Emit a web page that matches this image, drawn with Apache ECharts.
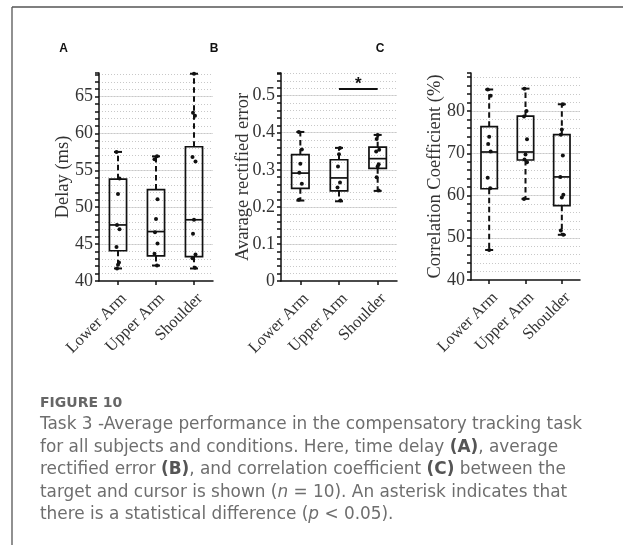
<!DOCTYPE html>
<html>
<head>
<meta charset="utf-8">
<script src="https://cdn.jsdelivr.net/npm/echarts@6/dist/echarts.min.js"></script>
<style>
html,body{margin:0;padding:0;background:#fff;}
#chart{width:623px;height:545px;}
</style>
</head>
<body>
<div id="chart"></div>
<script>
// ---------- data ----------
const categories = ['Lower Arm', 'Upper Arm', 'Shoulder'];

// box stats: [min, Q1, median, Q3, max]
const delayStats = [
  [41.7, 44.1, 47.6, 53.8, 57.5],
  [42.1, 43.4, 46.7, 52.4, 56.9],
  [41.7, 43.3, 48.3, 58.2, 68.1]
];
const delayPoints = [
  [57.5, 53.9, 51.8, 47.6, 47.0, 44.6, 42.5, 42.2, 41.7],
  [56.9, 56.5, 51.1, 48.4, 46.6, 45.1, 43.7, 42.1],
  [68.1, 62.8, 62.4, 56.8, 56.2, 48.3, 46.4, 43.6, 43.1, 41.8]
];

const errorStats = [
  [0.217, 0.250, 0.291, 0.341, 0.402],
  [0.215, 0.243, 0.278, 0.327, 0.359],
  [0.243, 0.304, 0.330, 0.361, 0.394]
];
const errorPoints = [
  [0.402, 0.355, 0.316, 0.292, 0.262, 0.219],
  [0.359, 0.342, 0.309, 0.266, 0.252, 0.217],
  [0.394, 0.383, 0.354, 0.349, 0.315, 0.309, 0.280, 0.244]
];

const corrStats = [
  [47.1, 61.6, 70.3, 76.3, 85.1],
  [59.2, 68.4, 70.3, 78.8, 85.3],
  [50.7, 57.6, 64.4, 74.4, 81.6]
];
const corrPoints = [
  [85.1, 83.6, 73.9, 72.2, 70.4, 64.2, 61.7, 47.1],
  [85.3, 80.0, 78.7, 73.3, 69.7, 68.5, 67.9, 59.2],
  [81.6, 75.6, 74.4, 69.5, 64.4, 60.2, 59.5, 51.7, 50.7]
];

// significance bar (panel B)
const sigPair = [1, 2];
const sigLevel = 0.518;
const sigMarkLevel = 0.536;

// axis settings
const axisNames = ['Delay (ms)', 'Avarage rectified error', 'Correlation Coefficient (%)'];
const axisMin = [40, 0, 40];
const axisMax = [68.2, 0.561, 89];
const majorInterval = [5, 0.1, 10];
const minorInterval = [1, 0.02, 2];
const panelLetters = ['A', 'B', 'C'];

// ---------- layout ----------
const grids = [
  {left: 99, top: 73, width: 114, height: 208},
  {left: 281, top: 73, width: 116, height: 208},
  {left: 471, top: 73, width: 109, height: 207}
];
const nameGaps = [26, 28, 26];
const letterPos = [[63.5, 49], [214, 49], [380, 49]];

const SERIF = '"Liberation Serif", "Times New Roman", serif';

function boxRender(params, api) {
  const x = api.value(0);
  const bw = api.size([1, 0])[0] * 0.45;
  const pMin = api.coord([x, api.value(1)]);
  const pQ1 = api.coord([x, api.value(2)]);
  const pMed = api.coord([x, api.value(3)]);
  const pQ3 = api.coord([x, api.value(4)]);
  const pMax = api.coord([x, api.value(5)]);
  const cx = pMed[0];
  const capW = 4;
  const solid = {stroke: '#111', lineWidth: 1.7, fill: null};
  const dashed = {stroke: '#111', lineWidth: 2, lineDash: [5.5, 3.5], fill: null};
  return {
    type: 'group',
    children: [
      {type: 'line', shape: {x1: cx, y1: pQ3[1], x2: cx, y2: pMax[1]}, style: dashed},
      {type: 'line', shape: {x1: cx, y1: pQ1[1], x2: cx, y2: pMin[1]}, style: dashed},
      {type: 'line', shape: {x1: cx - capW, y1: pMax[1], x2: cx + capW, y2: pMax[1]}, style: {stroke: '#111', lineWidth: 2}},
      {type: 'line', shape: {x1: cx - capW, y1: pMin[1], x2: cx + capW, y2: pMin[1]}, style: {stroke: '#111', lineWidth: 2}},
      {type: 'rect', shape: {x: cx - bw / 2, y: pQ3[1], width: bw, height: pQ1[1] - pQ3[1]}, style: {stroke: '#111', lineWidth: 1.7, fill: 'rgba(255,255,255,0)'}},
      {type: 'line', shape: {x1: cx - bw / 2, y1: pMed[1], x2: cx + bw / 2, y2: pMed[1]}, style: solid}
    ]
  };
}

const jitter = [-1.5, 1.5, 0, -1, 1.5, -1.5, 1, 0, -1, 1];
function pointRender(params, api) {
  const p = api.coord([api.value(0), api.value(1)]);
  return {
    type: 'circle',
    shape: {cx: p[0] + jitter[params.dataIndex % jitter.length], cy: p[1], r: 2},
    style: {fill: '#111'}
  };
}

function sigRender(params, api) {
  const a = api.coord([api.value(0), api.value(2)]);
  const b = api.coord([api.value(1), api.value(2)]);
  const m = api.coord([(api.value(0) + api.value(1)) / 2, api.value(3)]);
  return {
    type: 'group',
    children: [
      {type: 'line', shape: {x1: a[0], y1: a[1], x2: b[0], y2: b[1]}, style: {stroke: '#111', lineWidth: 2}},
      {type: 'text', x: (a[0] + b[0]) / 2, y: m[1] + 2, style: {text: '*', font: 'bold 17px "Liberation Sans", Arial, sans-serif', fill: '#111', align: 'center', verticalAlign: 'middle'}}
    ]
  };
}

const allStats = [delayStats, errorStats, corrStats];
const allPoints = [delayPoints, errorPoints, corrPoints];

const xAxes = [], yAxes = [], series = [], gridOpts = [];
for (let i = 0; i < 3; i++) {
  gridOpts.push(Object.assign({containLabel: false}, grids[i]));
  xAxes.push({
    type: 'category', gridIndex: i, data: categories,
    axisLine: {lineStyle: {color: '#111', width: 1.5}},
    axisTick: {show: true, alignWithLabel: true, length: 4, lineStyle: {color: '#111', width: 1.5}},
    axisLabel: {rotate: 45, margin: 9, verticalAlign: 'top', fontFamily: SERIF, fontSize: 16.5, color: '#333', interval: 0},
    splitLine: {show: false}
  });
  yAxes.push({
    type: 'value', gridIndex: i, position: 'left',
    min: axisMin[i], max: axisMax[i], interval: majorInterval[i],
    name: axisNames[i], nameLocation: 'middle', nameGap: nameGaps[i], nameMoveOverlap: false,
    nameTextStyle: {fontFamily: SERIF, fontSize: 18.5, color: '#333'},
    axisLine: {show: true, lineStyle: {color: '#111', width: 1.5}},
    axisTick: {show: true, length: 4, lineStyle: {color: '#111', width: 1.5}},
    axisLabel: {show: true, showMaxLabel: false, margin: 6, fontFamily: SERIF, fontSize: 18, color: '#333'},
    splitLine: {show: true, showMaxLine: false, showMinLine: false, lineStyle: {color: '#dcdcdc', width: 1}}
  });
  yAxes.push({
    type: 'value', gridIndex: i, position: 'left',
    min: axisMin[i], max: axisMax[i], interval: minorInterval[i],
    axisLine: {show: false},
    axisTick: {show: true, length: 4, lineStyle: {color: '#111', width: 1.5}},
    axisLabel: {show: false},
    splitLine: {show: true, showMaxLine: false, showMinLine: false, lineStyle: {color: '#c8c8c8', width: 1, type: [1, 2]}}
  });
  const boxData = allStats[i].map((s, k) => [k].concat(s));
  series.push({
    type: 'custom', xAxisIndex: i, yAxisIndex: 2 * i, renderItem: boxRender,
    data: boxData, encode: {x: 0, y: [1, 2, 3, 4, 5]}, z: 3, silent: true
  });
  const ptData = [];
  allPoints[i].forEach((arr, k) => arr.forEach(v => ptData.push([k, v])));
  series.push({
    type: 'custom', xAxisIndex: i, yAxisIndex: 2 * i, renderItem: pointRender,
    data: ptData, encode: {x: 0, y: 1}, z: 4, silent: true
  });
}
series.push({
  type: 'custom', xAxisIndex: 1, yAxisIndex: 2, renderItem: sigRender,
  data: [[sigPair[0], sigPair[1], sigLevel, sigMarkLevel]], encode: {x: [0, 1], y: [2, 3]}, z: 5, silent: true
});

// ---------- caption ----------
const CAP_FONT = '"DejaVu Sans", "Open Sans", sans-serif';
const CAP_SIZE = 16.9;
const captionLines = [
  'Task 3 -Average performance in the compensatory tracking task',
  'for all subjects and conditions. Here, time delay {b|(A)}, average',
  'rectified error {b|(B)}, and correlation coefficient {b|(C)} between the',
  'target and cursor is shown ({i|n} = 10). An asterisk indicates that',
  'there is a statistical difference ({i|p} < 0.05).'
];
const captionY = [425, 447.5, 470, 492.5, 515];

const graphics = [
  {type: 'line', shape: {x1: 12, y1: 7, x2: 623, y2: 7}, style: {stroke: '#555', lineWidth: 1.3}},
  {type: 'line', shape: {x1: 12, y1: 7, x2: 12, y2: 545}, style: {stroke: '#555', lineWidth: 1.3}},
  {type: 'text', x: 40, y: 403, style: {text: 'FIGURE 10', font: 'bold 14px ' + CAP_FONT, fill: '#666', verticalAlign: 'middle'}}
];
panelLetters.forEach((t, i) => graphics.push({
  type: 'text', x: letterPos[i][0], y: letterPos[i][1],
  style: {text: t, font: 'bold 12px "Liberation Sans", Arial, sans-serif', fill: '#111', align: 'center', verticalAlign: 'middle'}
}));
captionLines.forEach((t, i) => graphics.push({
  type: 'text', x: 40, y: captionY[i],
  style: {
    text: t, font: CAP_SIZE + 'px ' + CAP_FONT, fill: '#6e6e6e', verticalAlign: 'middle',
    rich: {
      b: {font: 'bold ' + CAP_SIZE + 'px ' + CAP_FONT, fill: '#555'},
      i: {font: 'italic ' + CAP_SIZE + 'px ' + CAP_FONT, fill: '#6e6e6e'}
    }
  }
}));

const chart = echarts.init(document.getElementById('chart'), null, {renderer: 'canvas'});
chart.setOption({
  animation: false,
  backgroundColor: '#fff',
  grid: gridOpts,
  xAxis: xAxes,
  yAxis: yAxes,
  series: series,
  graphic: graphics
});
</script>
</body>
</html>
